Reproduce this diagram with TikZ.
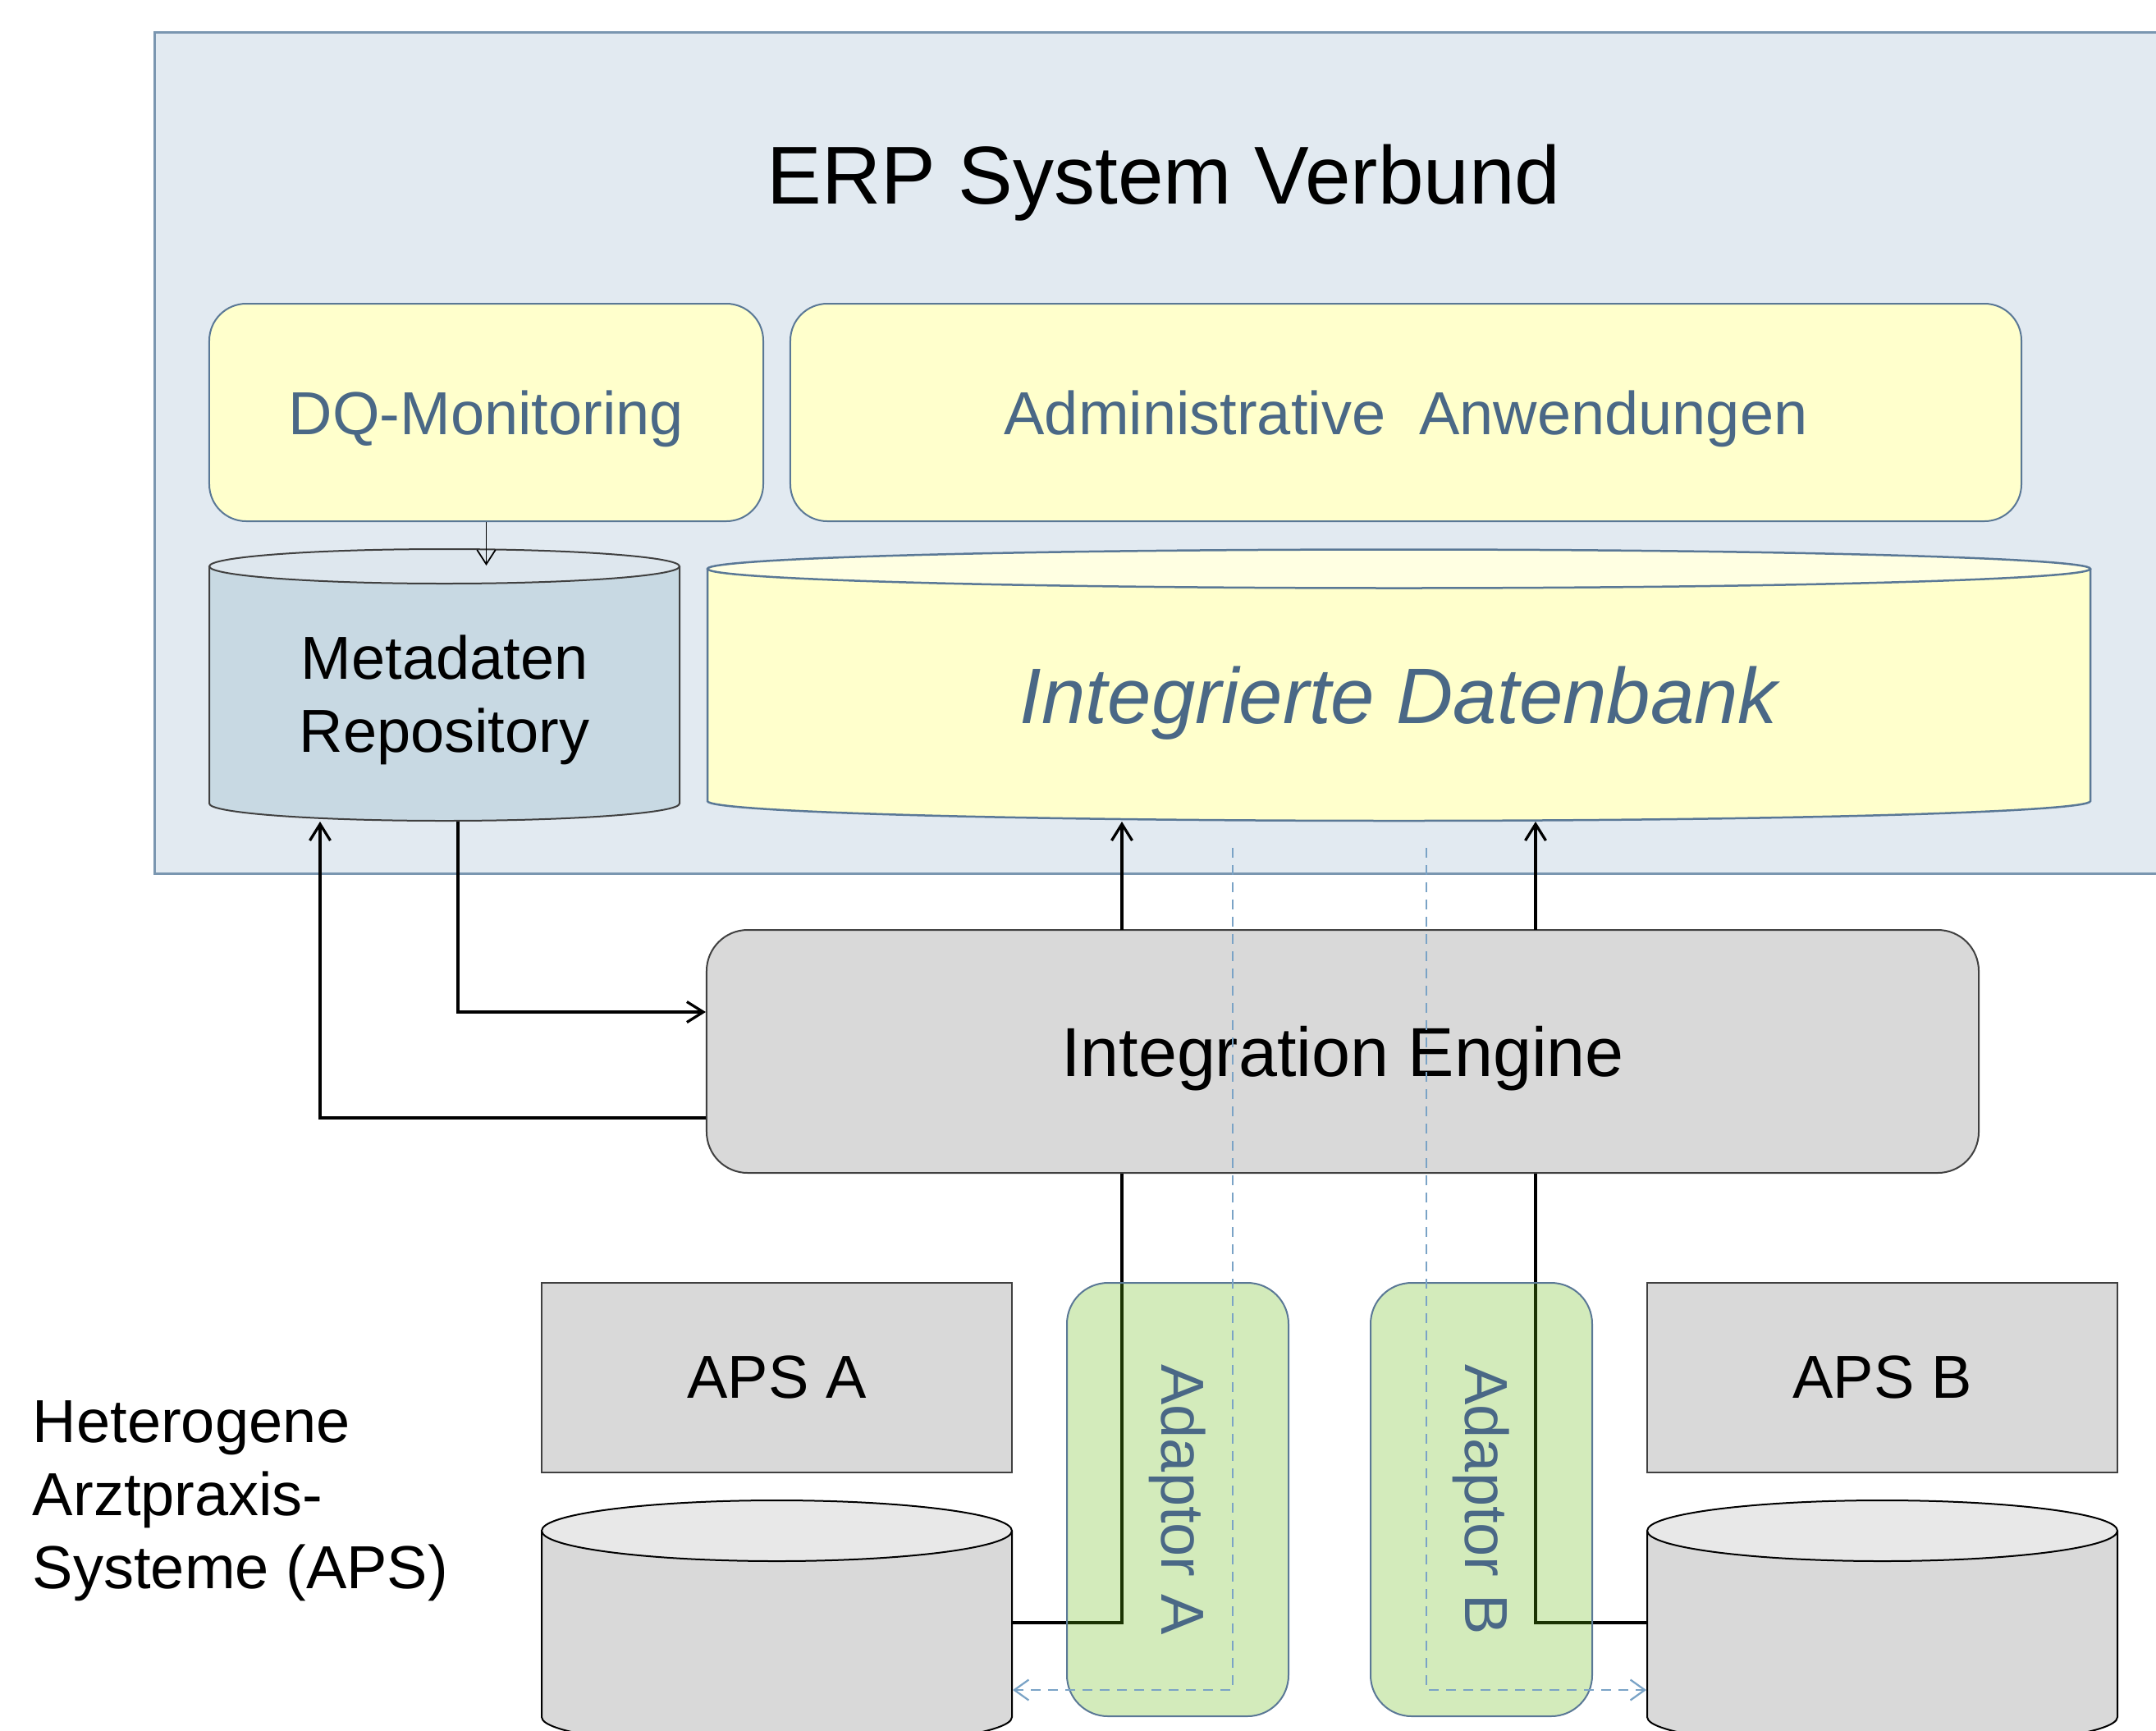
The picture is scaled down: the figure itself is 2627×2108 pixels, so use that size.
\documentclass[tikz,border=0pt]{standalone}
\usepackage{fontspec}
\setmainfont{Liberation Sans}
\usepackage{graphicx}
\usetikzlibrary{arrows.meta}

\definecolor{erpfill}{RGB}{226,234,241}
\definecolor{erpline}{RGB}{122,150,176}
\definecolor{paleyellow}{RGB}{255,255,204}
\definecolor{lightyellow}{RGB}{255,255,226}
\definecolor{slateline}{RGB}{90,120,150}
\definecolor{slatetext}{RGB}{74,104,134}
\definecolor{metafill}{RGB}{200,217,227}
\definecolor{metatop}{RGB}{222,231,238}
\definecolor{boxgrey}{RGB}{217,217,217}
\definecolor{topgrey}{RGB}{232,232,232}
\definecolor{darkline}{RGB}{64,64,64}
\definecolor{adaptgreen}{RGB}{98,184,12}
\definecolor{dashblue}{RGB}{122,163,198}

\newcommand{\txtbase}{\fontsize{14.8}{17.8}\selectfont}
\newcommand{\txttitle}{\fontsize{20}{24}\selectfont}
\newcommand{\txtengine}{\fontsize{16.9}{20}\selectfont}
\newcommand{\txtdb}{\fontsize{19.2}{23}\selectfont\itshape}

\begin{document}
\begin{tikzpicture}[x=0.2pt,y=0.2pt,yscale=-1,xscale=1,
  softbox/.style={draw=slateline,fill=paleyellow,line width=0.4pt,rounded corners=9pt,text=slatetext,font=\txtbase,inner sep=0pt,text depth=0pt},
  greybox/.style={draw=darkline,fill=boxgrey,line width=0.4pt,font=\txtbase,inner sep=0pt},
  adaptbox/.style={draw=slateline,fill=adaptgreen,fill opacity=0.28,text opacity=1,rounded corners=10pt,line width=0.4pt,text=slatetext,font=\txtbase,inner sep=0pt},
  dbhold/.style={inner sep=0pt,text depth=0pt},
  flow/.style={line width=0.65pt,-{Straight Barb[length=4pt,width=5pt]}},
  thinflow/.style={line width=0.35pt,-{Straight Barb[length=3.5pt,width=4.5pt]}},
  link/.style={line width=0.65pt},
  backflow/.style={dashblue,line width=0.45pt,dash pattern=on 2.4pt off 1.8pt,-{Straight Barb[length=3.5pt,width=5pt]}}]
\useasboundingbox (0,0) rectangle (2627,2108);
\clip (0,0) rectangle (2627,2108);

%Shape: Rectangle [ERP frame]
\draw [draw=erpline,fill=erpfill,line width=0.6pt] (188,39) rectangle (2700,1064) ;
% Text Node
\node [font=\txttitle,anchor=base,inner sep=0pt] (erptitle) at (1418,248) {ERP System Verbund};

%Shape: Rounded Rect
\node [softbox,minimum width=135pt,minimum height=53pt] (dq) at (592.5,502.5) {DQ-Monitoring};
%Shape: Rounded Rect
\node [softbox,minimum width=300pt,minimum height=53pt] (admin) at (1713,502.5) {Administrative\ \ Anwendungen};

%Shape: Can [metadata]
\draw [draw=darkline,fill=metafill,line width=0.4pt] (255,690) -- (255,979) .. controls (255,990.6) and (383.3,1000) .. (541.5,1000) .. controls (699.7,1000) and (828,990.6) .. (828,979) -- (828,690) ;
\draw [draw=darkline,fill=metatop,line width=0.4pt] (541.5,690) ellipse (286.5 and 21) ;
\node [dbhold,minimum width=114.6pt,minimum height=62pt,align=center,font=\txtbase] (meta) at (541.5,845) {Metadaten\\Repository};

%Shape: Can [integrated db]
\draw [draw=slateline,fill=paleyellow,line width=0.5pt] (862,693) -- (862,976) .. controls (862,989.3) and (1239.2,1000) .. (1704.5,1000) .. controls (2169.8,1000) and (2547,989.3) .. (2547,976) -- (2547,693) ;
\draw [draw=slateline,fill=lightyellow,line width=0.5pt] (1704.5,693) ellipse (842.5 and 23.5) ;
\node [dbhold,minimum width=337pt,minimum height=61.4pt,font=\txtdb,text=slatetext] (idb) at (1704.5,846.5) {Integrierte Datenbank};

%Shape: Rounded Rect [engine]
\node [greybox,rounded corners=10pt,text depth=0pt,minimum width=310pt,minimum height=59.2pt,font=\txtengine] (ie) at (1636,1281) {Integration Engine};

% Text Node
\node [anchor=north west,inner sep=0pt,align=left,font=\txtbase] (aps) at (39,1706) {Heterogene\\Arztpraxis-\\Systeme (APS)};

%Shape: Rectangle
\node [greybox,minimum width=114.6pt,minimum height=46.2pt] (apsA) at (946.5,1678.5) {APS A};
\node [greybox,minimum width=114.6pt,minimum height=46.2pt] (apsB) at (2293.5,1678.5) {APS B};

%Shape: Can [APS A]
\draw [fill=boxgrey,line width=0.4pt] (660,1865) -- (660,2092) .. controls (660,2112.4) and (788.3,2129) .. (946.5,2129) .. controls (1104.7,2129) and (1233,2112.4) .. (1233,2092) -- (1233,1865) ;
\draw [fill=topgrey,line width=0.4pt] (946.5,1865) ellipse (286.5 and 37) ;
\node [dbhold,minimum width=114.6pt,minimum height=44.8pt] (apsAdb) at (946.5,1977) {};
%Shape: Can [APS B]
\draw [fill=boxgrey,line width=0.4pt] (2007,1865) -- (2007,2092) .. controls (2007,2112.4) and (2135.3,2129) .. (2293.5,2129) .. controls (2451.7,2129) and (2580,2112.4) .. (2580,2092) -- (2580,1865) ;
\draw [fill=topgrey,line width=0.4pt] (2293.5,1865) ellipse (286.5 and 37) ;
\node [dbhold,minimum width=114.6pt,minimum height=44.8pt] (apsBdb) at (2293.5,1977) {};

\coordinate (portA) at (1367,1133);
\coordinate (portB) at (1871,1133);
\coordinate (mIn) at (558,1233);
\coordinate (mOut) at (390,1362);
\coordinate (retA) at (1502,1033);
\coordinate (retAlow) at (1502,2059);
\coordinate (retB) at (1738,1033);
\coordinate (retBlow) at (1738,2059);

%Straight Lines
\draw [thinflow] (dq.south) -- (dq.south |- meta.north) ;
\draw [flow] (meta.south -| mIn) -- (mIn) -- (mIn -| ie.west) ;
\draw [flow] (mOut -| ie.west) -- (mOut) -- (mOut |- meta.south) ;
\draw [flow] (portA) -- (portA |- idb.south) ;
\draw [flow] (portB) -- (portB |- idb.south) ;
\draw [link] (portA |- ie.south) |- (apsAdb.east) ;
\draw [link] (portB |- ie.south) |- (apsBdb.west) ;

%Shape: Rounded Rect [adaptors]
\node [adaptbox,minimum width=54pt,minimum height=105.6pt] (adA) at (1435,1827) {\rotatebox{-90}{Adaptor A}};
\node [adaptbox,minimum width=54pt,minimum height=105.6pt] (adB) at (1805,1827) {\rotatebox{-90}{Adaptor B}};

%Dashed Lines
\draw [backflow] (retA) -- (retAlow) -- (retAlow -| apsAdb.east) ;
\draw [backflow] (retB) -- (retBlow) -- (retBlow -| apsBdb.west) ;

\end{tikzpicture}
\end{document}
